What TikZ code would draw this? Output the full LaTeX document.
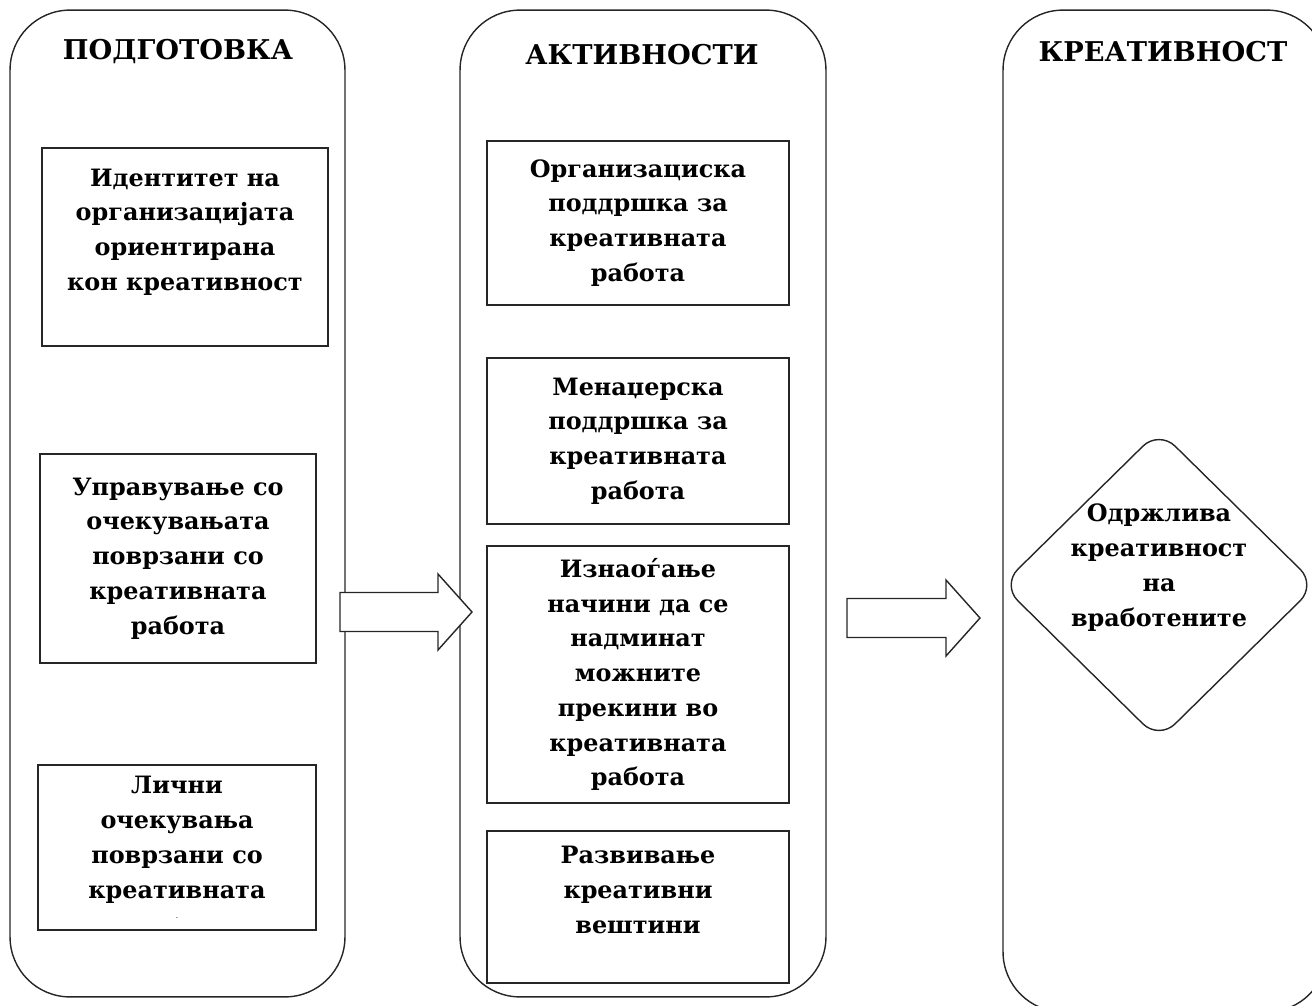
\documentclass[tikz,border=0pt]{standalone}
\usepackage{fontspec}
\setmainfont{DejaVu Serif}
\usetikzlibrary{shapes.geometric,positioning}

\begin{document}
\begin{tikzpicture}[x=0.02cm, y=-0.02cm,
  every node/.style={align=center, text=black, font=\bfseries\fontsize{13.6}{19.8}\selectfont},
  column/.style={draw=black!85, line width=0.8pt, rounded corners=1.2cm},
  box/.style={draw=black!85, line width=0.9pt, inner sep=0pt},
  title/.style={font=\bfseries\fontsize{15.5}{18}\selectfont},
  goal/.style={diamond, draw=black!85, line width=0.8pt, rounded corners=0.45cm, inner sep=0pt},
  blockarrow/.style={draw=black!85, line width=0.8pt, fill=white, line join=miter}]
  \useasboundingbox (0,0) rectangle (1312,1005);

  % columns
  \node[column, minimum width=6.7cm, minimum height=19.74cm] (prep) at (177.5,503.5) {};
  \node[column, minimum width=7.32cm, minimum height=19.74cm] (act) at (643,503.5) {};
  \node[column, minimum width=6.48cm, minimum height=20.04cm] (cre) at (1165,511) {};

  \node[title] (preptitle) at (178,52) {ПОДГОТОВКА};
  \node[title] (acttitle) at (642,55) {АКТИВНОСТИ};
  \node[title] (cretitle) at (1163,52) {КРЕАТИВНОСТ};

  % preparation
  \node[box, minimum width=5.72cm, minimum height=3.96cm] (identity) at (185,247)
    {Идентитет на\\организацијата\\ориентирана\\кон креативност\\ };
  \node[box, minimum width=5.52cm, minimum height=4.18cm] (expect) at (178,558.5)
    {Управување со\\очекувањата\\поврзани со\\креативната\\работа};
  \node[box, minimum width=5.56cm, minimum height=3.3cm] (personal) at (177,847.5)
    {Лични\\очекувања\\поврзани со\\креативната\\[-8pt]{\fontsize{3}{3}\selectfont.}};

  % activities
  \node[box, minimum width=6.04cm, minimum height=3.28cm] (orgsup) at (638,223)
    {Организациска\\поддршка за\\креативната\\работа};
  \node[box, minimum width=6.04cm, minimum height=3.32cm] (mansup) at (638,441)
    {Менаџерска\\поддршка за\\креативната\\работа};
  \node[box, minimum width=6.04cm, minimum height=5.14cm] (breaks) at (638,674.5)
    {Изнаоѓање\\начини да се\\надминат\\можните\\прекини во\\креативната\\работа};
  \node[box, minimum width=6.04cm, minimum height=3.04cm] (skills) at (638,907)
    {Развивање\\креативни\\вештини\\ };

  % creativity
  \node[goal, minimum width=6.3cm, minimum height=6.2cm] (goal) at (1159,585) {};
  \node (goaltext) at (goal.center) [yshift=0.35cm]
    {Одржлива\\креативност\\на\\вработените};

  % block arrows
  \coordinate (arr1) at (340,612);
  \coordinate (arr2) at (847,618);
  \draw[blockarrow] (arr1) ++(0,-19.5) -- ++(98,0) -- ++(0,-18.5) -- ++(34,38)
    -- ++(-34,38) -- ++(0,-18.5) -- ++(-98,0) -- cycle;
  \draw[blockarrow] (arr2) ++(0,-19.5) -- ++(99,0) -- ++(0,-18.5) -- ++(34,38)
    -- ++(-34,38) -- ++(0,-18.5) -- ++(-99,0) -- cycle;
\end{tikzpicture}
\end{document}
